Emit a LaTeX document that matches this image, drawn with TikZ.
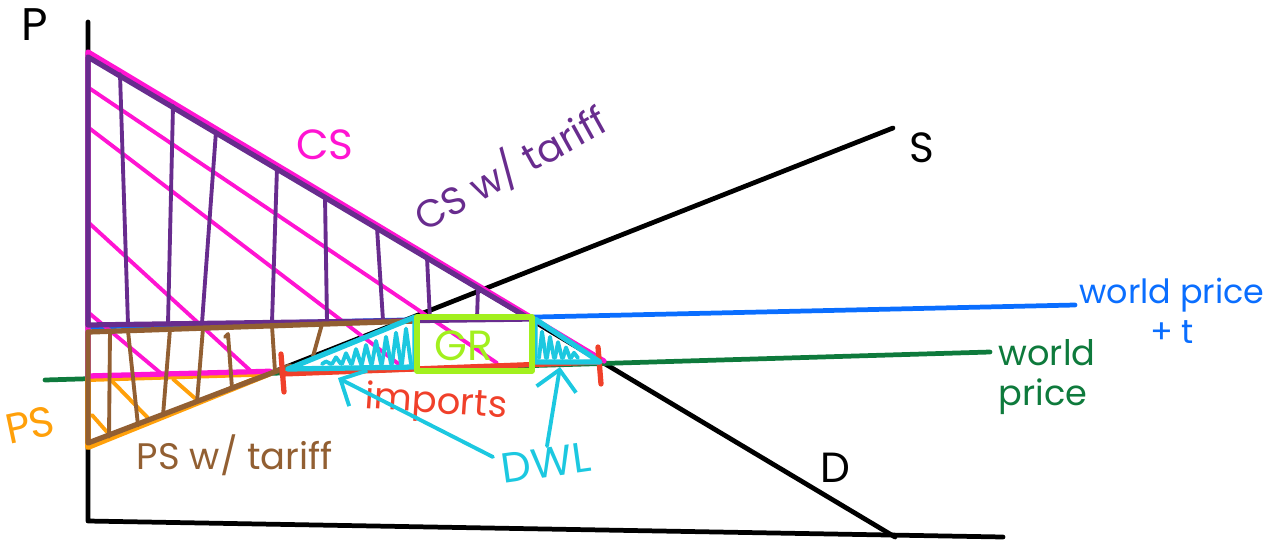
\documentclass[tikz,border=0pt]{standalone}
\usepackage{fontspec}
\setmainfont{Poppins}
\usetikzlibrary{arrows.meta}

\definecolor{csmag}{HTML}{FF14D2}
\definecolor{cspur}{HTML}{682C8E}
\definecolor{psbrown}{HTML}{925F32}
\definecolor{psorange}{HTML}{FFA00A}
\definecolor{dwlcyan}{HTML}{1CC8E0}
\definecolor{grlime}{HTML}{A2F01E}
\definecolor{impred}{HTML}{F0402A}
\definecolor{wpgreen}{HTML}{0E7A3C}
\definecolor{wpblue}{HTML}{0A6EFF}

\tikzset{
  curve/.style={line width=1.35pt},
  area/.style={line width=1.5pt},
  hatch/.style={line width=1.1pt},
  lbl/.style={inner sep=0pt,font=\fontsize{11}{13}\selectfont},
}

\begin{document}
\begin{tikzpicture}[x=0.1mm,y=-0.1mm,line cap=round,line join=round]
\useasboundingbox (0,0) rectangle (1269,539);
\coordinate (ptop) at (88,22);
\coordinate (o) at (88,521);
\coordinate (qend) at (1003,537);
\coordinate (dA) at (88,55);
\coordinate (dB) at (895,537);
\coordinate (sA) at (88,445);
\coordinate (sB) at (893,128);
\coordinate (wA) at (45,380);
\coordinate (wB) at (990,352);
\coordinate (tA) at (88,327);
\coordinate (tB) at (1075,305);
\coordinate (e1) at (intersection of sA--sB and wA--wB);
\coordinate (qd) at (intersection of dA--dB and wA--wB);

% axes and curves
\draw[curve] (ptop) -- (o) -- (qend);
\draw[curve] (sA) -- (sB);
\draw[curve] (dA) -- (dB);
\draw[curve,wpgreen] (wA) -- (wB);
\draw[curve,wpblue] (tA) -- (tB);

% CS
\foreach \ya/\xb/\yb in {88/497/363, 128/400/365, 223/253/373, 313/163/375}
  \draw[hatch,csmag] (89,\ya) -- (\xb,\yb);
\draw[area,csmag] (604,361) -- (88,52) -- (88,378);

% PS
\foreach \xa/\ya/\xb/\yb in {112/381/148/418, 173/379/197/400, 92/415/107/432}
  \draw[hatch,psorange] (\xa,\ya) -- (\xb,\yb);
\draw[line width=1.7pt,psorange] (e1) -- (88,379) -- (88,447) -- (e1);
\draw[area,csmag] (88,376) -- ([yshift=0.6pt]e1);

% CS w/ tariff
\foreach \xa/\xb in {120/128,173/168,216/202,277/272,325/327,377/383,427/430,478/477}
  \draw[hatch,cspur] (\xa,{55+0.5973*(\xa-88)}) -- (\xb,{325-0.0158*(\xb-88)});
\draw[area,cspur] (88,57) -- (530,319) -- (88,325) -- cycle;

% PS w/ tariff
\foreach \xa/\xb in {110/109,128/138,170/163,203/197,272/275,322/313}
  \draw[hatch,psbrown] (\xa,{332-0.0336*(\xa-88)}) -- (\xb,{445-0.394*(\xb-88)});
\draw[hatch,psbrown] (225,337) -- (228,334) -- (232,388);
\draw[area,psbrown] (415,321) -- (88,332) -- (88,443) -- (290,366);

% imports
\draw[area,impred] (282,374) -- (600,362);
\draw[area,impred] (281,354) -- (284,392);
\draw[area,impred] (598,347) -- (601,384);

% DWL
\draw[area,dwlcyan] (288,369) -- (415,317) -- (415,367) -- cycle;
\foreach \x in {322,332,...,402}
  \draw[hatch,dwlcyan] (\x,364) -- (\x+4,{369-0.41*(\x+4-288)+8}) -- (\x+9,364);
\draw[area,dwlcyan] (535,319) -- (535,362) -- (600,362) -- cycle;
\foreach \x in {539,547,...,571}
  \draw[hatch,dwlcyan] (\x,358) -- (\x+3,{320+0.66*(\x+3-535)+7}) -- (\x+7,358);

% GR
\draw[area,grlime] (417,317) rectangle (532,371);

% labels
\node[lbl,font=\fontsize{13}{15}\selectfont] (p) at (35,25) {P};
\node[lbl,font=\fontsize{12}{14}\selectfont] (s) at (922,148) {S};
\node[lbl,font=\fontsize{12}{14}\selectfont] (d) at (835,468) {D};
\node[lbl,csmag,font=\fontsize{12}{14}\selectfont] (cs) at (325,145) {CS};
\node[lbl,cspur,rotate=29] (cst) at (510,168) {CS w/ tariff};
\node[lbl,grlime,font=\fontsize{12}{14}\selectfont] (gr) at (464,346) {GR};
\node[lbl,impred,rotate=-4,font=\fontsize{10.5}{12}\selectfont] (imp) at (436,404) {imports};
\node[lbl,psbrown,font=\fontsize{10.5}{12}\selectfont] (pst) at (235,455) {PS w/ tariff};
\node[lbl,psorange,rotate=12,font=\fontsize{12}{14}\selectfont] (ps) at (30,425) {PS};
\node[lbl,wpgreen,align=left,font=\fontsize{10}{11.5}\selectfont] (wp) at (1047,377) {world\\price};
\node[lbl,wpblue,align=center,font=\fontsize{9.5}{11.5}\selectfont] (wpt) at (1172,311) {world price\\+ t};
\node[lbl,dwlcyan,rotate=8,font=\fontsize{12}{14}\selectfont] (dwl) at (546,463) {DWL};

\coordinate (dwlL) at (338,378);
\coordinate (dwlR) at (560,367);
\draw[hatch,dwlcyan,-{Straight Barb[length=2mm,width=4mm]}] (493,457) -- (dwlL);
\draw[hatch,dwlcyan,-{Straight Barb[length=2mm,width=4mm]}] (547,446) -- (dwlR);
\end{tikzpicture}
\end{document}
